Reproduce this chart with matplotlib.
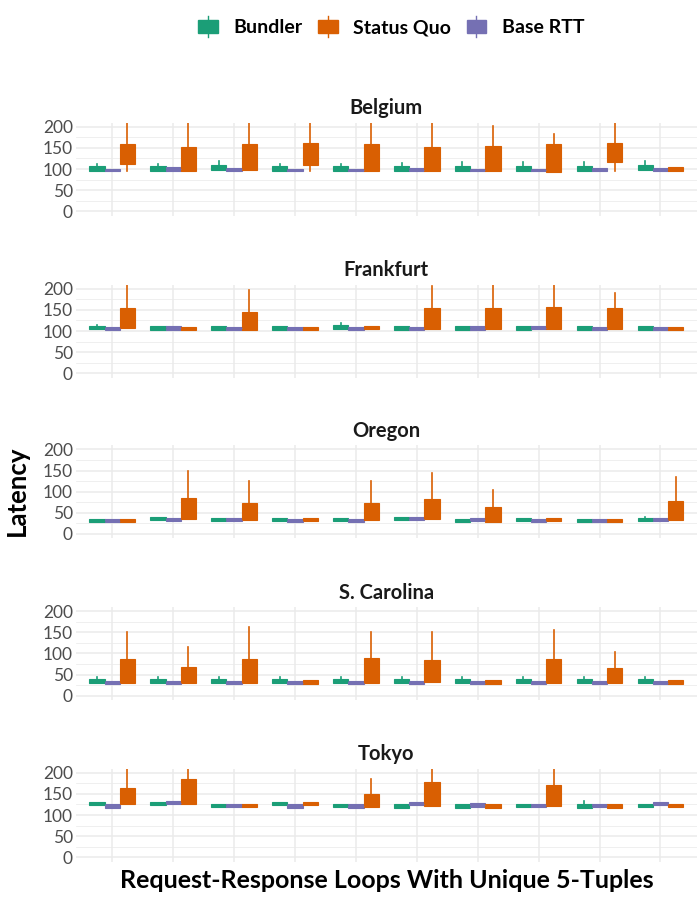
import matplotlib
matplotlib.use("Agg")
import matplotlib.pyplot as plt
from matplotlib.patches import Rectangle
from matplotlib.lines import Line2D
from matplotlib.legend_handler import HandlerBase

plt.rcParams['font.family'] = ['Lato', 'DejaVu Sans']

# ---------------- data: (whisker low, q1, median, q3, whisker high) ----------------
REGIONS = ["Belgium", "Frankfurt", "Oregon", "S. Carolina", "Tokyo"]
SERIES = ["Bundler", "Status Quo", "Base RTT"]
COLORS = {"Bundler": "#1b9e77", "Status Quo": "#d95f02", "Base RTT": "#7570b3"}
GROUPS = list(range(1, 11))

belgium_bundler = [(95, 96, 100, 106, 113), (95, 96, 100, 106, 112), (97, 98, 103, 110, 120),
                   (95, 96, 100, 106, 113), (95, 96, 100, 106, 113), (95, 96, 100, 106, 115),
                   (95, 96, 100, 107, 116), (95, 96, 100, 107, 116), (95, 96, 100, 107, 116),
                   (97, 98, 103, 110, 120)]
belgium_base = [(95, 95, 97, 100, 100), (96, 96, 100, 104, 104), (96, 96, 100, 103, 103),
                (95, 95, 97, 100, 100), (95, 95, 97, 100, 100), (95, 95, 98, 102, 102),
                (95, 95, 97, 100, 100), (95, 95, 97, 100, 100), (96, 96, 100, 103, 103),
                (96, 96, 100, 103, 103)]
belgium_sq = [(96, 113, 140, 160, 230), (96, 96, 120, 151, 230), (98, 98, 130, 160, 230),
              (96, 110, 140, 162, 230), (95, 95, 125, 158, 230), (96, 96, 125, 153, 230),
              (95, 95, 125, 155, 202), (94, 94, 125, 158, 182), (96, 116, 140, 162, 209),
              (96, 96, 100, 105, 105)]

frankfurt_bundler = [(105, 105, 109, 113, 114), (103, 103, 107, 111, 111), (103, 103, 107, 111, 111),
                     (103, 103, 107, 111, 111), (104, 104, 108, 114, 119), (103, 103, 107, 111, 113),
                     (103, 103, 107, 111, 111), (103, 103, 107, 111, 111), (103, 103, 107, 111, 111),
                     (103, 103, 107, 111, 111)]
frankfurt_base = [(102, 102, 106, 110, 110), (103, 103, 107, 111, 111), (102, 102, 106, 110, 110),
                  (102, 102, 106, 110, 110), (102, 102, 106, 110, 110), (102, 102, 106, 110, 110),
                  (103, 103, 107, 111, 111), (104, 104, 108, 112, 112), (102, 102, 106, 110, 110),
                  (102, 102, 106, 110, 110)]
frankfurt_sq = [(106, 106, 130, 155, 230), (102, 102, 106, 110, 110), (103, 103, 120, 145, 198),
                (102, 102, 106, 110, 110), (105, 105, 108, 112, 112), (104, 104, 130, 155, 207),
                (104, 104, 130, 155, 230), (104, 104, 130, 156, 230), (104, 104, 130, 155, 191),
                (102, 102, 106, 110, 110)]

oregon_bundler = [(28, 28, 31, 35, 35), (34, 34, 37, 41, 41), (31, 31, 34, 38, 38),
                  (31, 31, 34, 38, 38), (31, 31, 34, 38, 38), (34, 34, 37, 41, 41),
                  (28, 28, 31, 35, 35), (31, 31, 34, 38, 38), (28, 28, 31, 35, 35),
                  (31, 31, 34, 38, 41)]
oregon_base = [(28, 28, 31, 35, 35), (31, 31, 34, 37, 37), (31, 31, 34, 38, 38),
               (28, 28, 31, 35, 35), (28, 28, 31, 35, 35), (33, 33, 36, 40, 40),
               (31, 31, 34, 38, 38), (28, 28, 31, 35, 35), (28, 28, 31, 35, 35),
               (31, 31, 34, 38, 38)]
oregon_sq = [(28, 28, 31, 35, 35), (35, 35, 55, 84, 149), (32, 32, 50, 73, 125),
             (31, 31, 34, 38, 38), (32, 32, 50, 74, 125), (36, 36, 55, 83, 145),
             (28, 28, 45, 63, 104), (31, 31, 34, 38, 38), (28, 28, 31, 35, 35),
             (32, 32, 50, 78, 135)]

carolina_bundler = [(29, 30, 34, 39, 45)] * 10
carolina_base = [(28, 28, 31, 35, 35)] * 10
carolina_sq = [(31, 31, 55, 87, 151), (31, 31, 50, 68, 115), (31, 31, 55, 87, 162),
               (28, 28, 32, 36, 36), (31, 31, 55, 89, 151), (32, 32, 55, 85, 151),
               (28, 28, 32, 36, 36), (31, 31, 55, 86, 156), (29, 29, 45, 65, 103),
               (28, 28, 32, 36, 36)]

tokyo_bundler = [(123, 123, 127, 131, 131), (123, 123, 127, 131, 131), (120, 120, 123, 127, 127),
                 (123, 123, 127, 131, 131), (120, 120, 123, 127, 127), (117, 117, 121, 125, 125),
                 (117, 117, 121, 125, 125), (120, 120, 123, 127, 127), (117, 117, 121, 126, 132),
                 (120, 120, 123, 127, 127)]
tokyo_base = [(117, 117, 121, 125, 125), (125, 125, 129, 133, 133), (120, 120, 123, 127, 127),
              (117, 117, 121, 125, 125), (117, 117, 121, 125, 125), (123, 123, 127, 130, 130),
              (120, 120, 124, 128, 128), (120, 120, 123, 127, 127), (120, 120, 123, 127, 127),
              (123, 123, 127, 130, 130)]
tokyo_sq = [(126, 126, 140, 163, 230), (126, 126, 150, 186, 230), (120, 120, 123, 127, 127),
            (123, 123, 127, 131, 131), (119, 119, 130, 150, 184), (121, 121, 145, 178, 230),
            (117, 117, 120, 125, 125), (121, 121, 145, 171, 230), (117, 117, 120, 125, 125),
            (120, 120, 123, 127, 127)]

DATA = {
    "Belgium": {"Bundler": belgium_bundler, "Base RTT": belgium_base, "Status Quo": belgium_sq},
    "Frankfurt": {"Bundler": frankfurt_bundler, "Base RTT": frankfurt_base, "Status Quo": frankfurt_sq},
    "Oregon": {"Bundler": oregon_bundler, "Base RTT": oregon_base, "Status Quo": oregon_sq},
    "S. Carolina": {"Bundler": carolina_bundler, "Base RTT": carolina_base, "Status Quo": carolina_sq},
    "Tokyo": {"Bundler": tokyo_bundler, "Base RTT": tokyo_base, "Status Quo": tokyo_sq},
}
Y_TICKS = [0, 50, 100, 150, 200]
Y_MINOR = [25, 75, 125, 175]

# order of dodge within a group
DODGE_ORDER = ["Bundler", "Base RTT", "Status Quo"]
OFFSETS = [-0.25, 0.0, 0.25]
BOX_W = 0.25

# ---------------- figure ----------------
fig = plt.figure(figsize=(7, 9), dpi=100)
GRID = "#ebebeb"

panel_left = 75.7 / 700
panel_w = (697 - 75.7) / 700
panel_bottoms_px = [215.5, 377.5, 538.2, 699.9, 861.5]
panel_h_px = 93.0

for region, bpx in zip(REGIONS, panel_bottoms_px):
    ax = fig.add_axes([panel_left, 1 - bpx / 900, panel_w, panel_h_px / 900])
    ax.set_xlim(0.4, 10.6)
    ax.set_ylim(-10, 210)
    for s in ax.spines.values():
        s.set_visible(False)
    ax.set_axisbelow(True)
    ax.set_yticks(Y_TICKS)
    ax.set_yticks(Y_MINOR, minor=True)
    ax.set_xticks(GROUPS)
    ax.set_xticklabels([])
    ax.tick_params(axis='both', which='both', length=0)
    ax.tick_params(axis='y', labelsize=12.5, labelcolor="#4d4d4d", pad=2)
    ax.grid(True, which='major', color=GRID, linewidth=1.1)
    ax.grid(True, which='minor', axis='y', color=GRID, linewidth=0.55)
    for series, off in zip(DODGE_ORDER, OFFSETS):
        col = COLORS[series]
        stats = []
        for lo, q1, med, q3, hi in DATA[region][series]:
            stats.append(dict(whislo=lo, q1=q1, med=med, q3=q3, whishi=hi, fliers=[]))
        ax.bxp(stats, positions=[g + off for g in GROUPS], widths=BOX_W,
               patch_artist=True, showcaps=False, showfliers=False,
               boxprops=dict(facecolor=col, edgecolor=col, linewidth=0.8),
               whiskerprops=dict(color=col, linewidth=1.2),
               medianprops=dict(color=col, linewidth=0.8),
               manage_ticks=False)
    ax.set_title(region, fontsize=14.5, fontweight='bold', color="#1a1a1a", pad=6)

fig.text(0.024, 0.4544, "Latency", rotation=90, ha='center', va='center',
         fontsize=18.5, fontweight='bold', color='black')
fig.text(panel_left + panel_w / 2, 0.022, "Request-Response Loops With Unique 5-Tuples",
         ha='center', va='center', fontsize=18, fontweight='bold', color='black')


class BoxHandler(HandlerBase):
    def create_artists(self, legend, orig_handle, xdescent, ydescent, width, height,
                       fontsize, trans):
        c = orig_handle.get_facecolor()
        x0, y0 = -xdescent, -ydescent
        r = Rectangle((x0, y0), width, height, facecolor=c, edgecolor=c, transform=trans)
        ln = Line2D([x0 + width / 2] * 2, [y0 - 0.25 * height, y0 + 1.25 * height],
                    color=c, lw=1.0, transform=trans)
        return [ln, r]


handles = [Rectangle((0, 0), 1, 1, facecolor=COLORS[s]) for s in SERIES]
fig.legend(handles, SERIES, handler_map={Rectangle: BoxHandler()},
           loc='center', bbox_to_anchor=(0.559, 0.969), ncol=3, frameon=False,
           prop={'weight': 'bold', 'size': 14}, handlelength=1.0, handleheight=0.7,
           handletextpad=0.8, columnspacing=0.8)

fig.savefig("out.png", dpi=100)
